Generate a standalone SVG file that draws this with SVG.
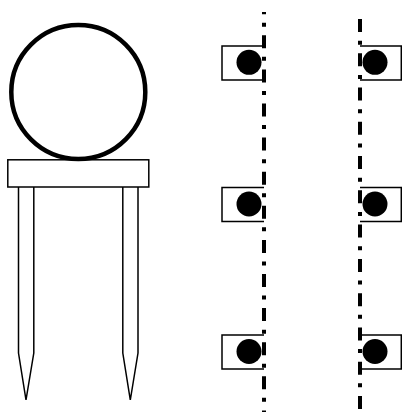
<svg xmlns="http://www.w3.org/2000/svg" width="402" height="412" viewBox="0 0 402 412">
<style>
.o{fill:none;stroke:#000;stroke-width:1.500}
.w{fill:#fff;stroke:#000;stroke-width:1.500}
.d{fill:#000}
.c{fill:none;stroke:#000;stroke-width:4}
</style>
<rect width="402" height="412" fill="#fff"/>
<g id="stand">
<path class="o" d="M18.500 187V353L26 400L33.800 353V187"/>
<path class="o" d="M122.800 187V353L130.300 400L138 353V187"/>
<rect class="w" x="7.800" y="159.800" width="141" height="27.200"/>
<circle cx="78.300" cy="92" r="67" fill="none" stroke="#000" stroke-width="4.500"/>
</g>
<g id="left-1"><path class="o" d="M264 46H222V80H264"/><circle class="d" cx="249" cy="62.300" r="12.500"/></g>
<g id="left-2"><path class="o" d="M264 187.500H222V221.500H264"/><circle class="d" cx="249" cy="204" r="12.500"/></g>
<g id="left-3"><path class="o" d="M264 335H222V369H264"/><circle class="d" cx="249" cy="351.500" r="12.500"/></g>
<g id="right-1"><path class="o" d="M360 46H401.300V80H360"/><circle class="d" cx="375" cy="62.300" r="12.500"/></g>
<g id="right-2"><path class="o" d="M360 187.500H401.300V221.500H360"/><circle class="d" cx="375" cy="204" r="12.500"/></g>
<g id="right-3"><path class="o" d="M360 335H401.300V369H360"/><circle class="d" cx="375" cy="351.500" r="12.500"/></g>
<g id="connectors">
<path class="c" d="M264 12V412" stroke-dasharray="13 8.550 4 8.550" stroke-dashoffset="10.800"/>
<path class="c" d="M360 19V409" stroke-dasharray="13 8.635 4 8.635"/>
</g>
</svg>
